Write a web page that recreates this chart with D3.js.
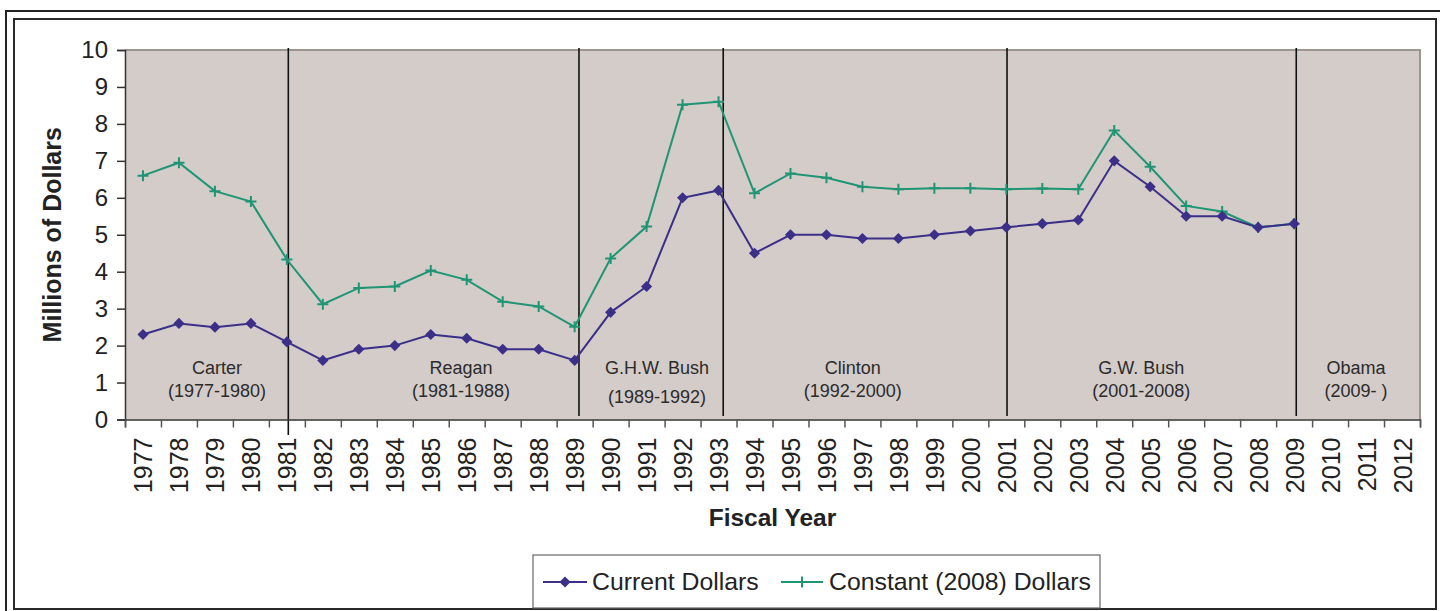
<!DOCTYPE html>
<html>
<head>
<meta charset="utf-8">
<script src="https://cdn.jsdelivr.net/npm/d3@7"></script>
<style>
  html, body { margin: 0; padding: 0; background: #fff; }
  svg { display: block; font-family: "Liberation Sans", Arial, sans-serif; }
</style>
</head>
<body>
<svg id="chart" width="1440" height="611"></svg>
<script>
// ---- data ----
const years = d3.range(1977, 2013);
const currentYears = d3.range(1977, 2010);
const currentDollars = [2.3, 2.6, 2.5, 2.6, 2.1, 1.6, 1.9, 2.0, 2.3, 2.2, 1.9, 1.9, 1.6,
  2.9, 3.6, 6.0, 6.2, 4.5, 5.0, 5.0, 4.9, 4.9, 5.0, 5.1, 5.2, 5.3, 5.4, 7.0, 6.3, 5.5, 5.5, 5.2, 5.3];
const constantDollars = [6.6, 6.95, 6.18, 5.9, 4.33, 3.12, 3.56, 3.6, 4.03, 3.78, 3.19, 3.06, 2.51,
  4.36, 5.22, 8.52, 8.6, 6.12, 6.66, 6.54, 6.3, 6.23, 6.26, 6.26, 6.23, 6.25, 6.23, 7.82, 6.84, 5.78, 5.63, 5.2, 5.3];
const yTicks = [0, 1, 2, 3, 4, 5, 6, 7, 8, 9, 10];
const boundaryYears = [1981.04, 1989.12, 1993.13, 2001.02, 2009.06];
const presidents = ["Carter", "Reagan", "G.H.W. Bush", "Clinton", "G.W. Bush", "Obama"];
const presidentTerms = ["(1977-1980)", "(1981-1988)", "(1989-1992)", "(1992-2000)", "(2001-2008)", "(2009- )"];
const presidentCenters = [1979.06, 1985.84, 1991.29, 1996.73, 2004.75, 2010.72];
const seriesNames = ["Current Dollars", "Constant (2008) Dollars"];

// ---- layout ----
const svg = d3.select("#chart");
const L = 125, R = 1420, T = 50, B = 419.5;
const purple = "#3b2f88", green = "#1f9574";

const x = d3.scaleLinear().domain([1976.5, 2012.5]).range([L, R]);
const y = d3.scaleLinear().domain([0, 10]).range([B, T]);

// frames
svg.append("rect").attr("x", 6).attr("y", 11).attr("width", 1450).attr("height", 620)
  .attr("fill", "none").attr("stroke", "#222").attr("stroke-width", 2);
svg.append("rect").attr("x", 14).attr("y", 19).attr("width", 1422).attr("height", 590)
  .attr("fill", "#fff").attr("stroke", "#2a2a2a").attr("stroke-width", 2);

// plot area
svg.append("rect").attr("x", L).attr("y", T).attr("width", R - L).attr("height", B - T)
  .attr("fill", "#d4ccc9");
svg.append("path").attr("d", `M${L},${T}H${R}V${B}`)
  .attr("fill", "none").attr("stroke", "#9e958f").attr("stroke-width", 2);

// president boundary lines
svg.append("g").selectAll("line").data(boundaryYears).join("line")
  .attr("x1", d => x(d)).attr("x2", d => x(d))
  .attr("y1", T - 2).attr("y2", (d, i) => i === 0 ? 435 : 416)
  .attr("stroke", "#111").attr("stroke-width", 1.6);

// president labels
const pl = svg.append("g").attr("font-size", 18).attr("fill", "#2b2b2b").attr("text-anchor", "middle");
presidents.forEach((p, i) => {
  pl.append("text").attr("x", x(presidentCenters[i])).attr("y", 374).text(p);
  pl.append("text").attr("x", x(presidentCenters[i])).attr("y", i === 2 ? 403 : 397).text(presidentTerms[i]);
});

// y axis
const yAxis = svg.append("g").attr("transform", `translate(${L},0)`)
  .call(d3.axisLeft(y).tickValues(yTicks).tickSize(8).tickPadding(9).tickFormat(d3.format("d")));
yAxis.select(".domain").attr("stroke", "#333").attr("stroke-width", 1.5);
yAxis.selectAll(".tick line").attr("stroke", "#333").attr("stroke-width", 1.5);
yAxis.selectAll("text").attr("font-size", 24).attr("fill", "#222")
  .attr("font-family", "'Liberation Sans', Arial, sans-serif");

// x axis ticks (category boundaries)
const boundaries = d3.range(1976.5, 2013, 1);
const xAxisTicks = svg.append("g").attr("transform", `translate(0,${B})`)
  .call(d3.axisBottom(x).tickValues(boundaries).tickSize(8).tickFormat(""));
xAxisTicks.select(".domain").attr("stroke", "#333").attr("stroke-width", 1.5);
xAxisTicks.selectAll(".tick line").attr("stroke", "#555").attr("stroke-width", 1.5);

// x axis labels
const xAxisLabels = svg.append("g").attr("transform", `translate(0,${B})`)
  .call(d3.axisBottom(x).tickValues(years).tickSize(0).tickFormat(d3.format("d")));
xAxisLabels.select(".domain").remove();
xAxisLabels.selectAll("text")
  .attr("transform", "rotate(-90)")
  .attr("x", -18).attr("y", 0).attr("dy", "0.36em")
  .attr("text-anchor", "end")
  .attr("font-size", 25).attr("fill", "#222")
  .attr("font-family", "'Liberation Sans', Arial, sans-serif");

// axis titles
svg.append("text").attr("transform", `translate(61,${(T + B) / 2}) rotate(-90)`)
  .attr("text-anchor", "middle").attr("font-size", 25).attr("font-weight", "bold").attr("fill", "#222")
  .text("Millions of Dollars");
svg.append("text").attr("x", (L + R) / 2).attr("y", 526)
  .attr("text-anchor", "middle").attr("font-size", 24.5).attr("font-weight", "bold").attr("fill", "#222")
  .text("Fiscal Year");

// lines
const line = d3.line().x(d => x(d[0])).y(d => y(d[1]));
const curData = currentYears.map((yr, i) => [yr, currentDollars[i]]);
const conData = currentYears.map((yr, i) => [yr, constantDollars[i]]);

const plusSymbol = {
  draw(ctx, size) {
    const r = Math.sqrt(size) / 2;
    ctx.moveTo(-r, 0); ctx.lineTo(r, 0);
    ctx.moveTo(0, -r); ctx.lineTo(0, r);
  }
};
const diamond = d3.symbol().type(d3.symbolSquare).size(62);
const plus = d3.symbol().type(plusSymbol).size(121);

svg.append("path").datum(conData).attr("d", line)
  .attr("fill", "none").attr("stroke", green).attr("stroke-width", 2);
svg.append("g").selectAll("path").data(conData).join("path")
  .attr("transform", d => `translate(${x(d[0])},${y(d[1])})`)
  .attr("d", plus).attr("fill", "none").attr("stroke", green).attr("stroke-width", 2);

svg.append("path").datum(curData).attr("d", line)
  .attr("fill", "none").attr("stroke", purple).attr("stroke-width", 2);
svg.append("g").selectAll("path").data(curData).join("path")
  .attr("transform", d => `translate(${x(d[0])},${y(d[1])}) rotate(45)`)
  .attr("d", diamond).attr("fill", purple);

// legend
const lg = svg.append("g");
lg.append("rect").attr("x", 533).attr("y", 555).attr("width", 567).attr("height", 53)
  .attr("fill", "#fff").attr("stroke", "#666").attr("stroke-width", 1.2);
const legendItems = [
  { name: seriesNames[0], color: purple, x0: 543, x1: 587, sym: "diamond", tx: 592 },
  { name: seriesNames[1], color: green, x0: 781, x1: 823, sym: "plus", tx: 829 }
];
legendItems.forEach(it => {
  lg.append("line").attr("x1", it.x0).attr("x2", it.x1).attr("y1", 582).attr("y2", 582)
    .attr("stroke", it.color).attr("stroke-width", 2);
  const cx = (it.x0 + it.x1) / 2;
  if (it.sym === "diamond") {
    lg.append("path").attr("transform", `translate(${cx},582) rotate(45)`).attr("d", diamond).attr("fill", it.color);
  } else {
    lg.append("path").attr("transform", `translate(${cx},582)`).attr("d", plus)
      .attr("fill", "none").attr("stroke", it.color).attr("stroke-width", 2);
  }
  lg.append("text").attr("x", it.tx).attr("y", 590).attr("font-size", 24.8).attr("fill", "#222").text(it.name);
});
</script>
</body>
</html>
